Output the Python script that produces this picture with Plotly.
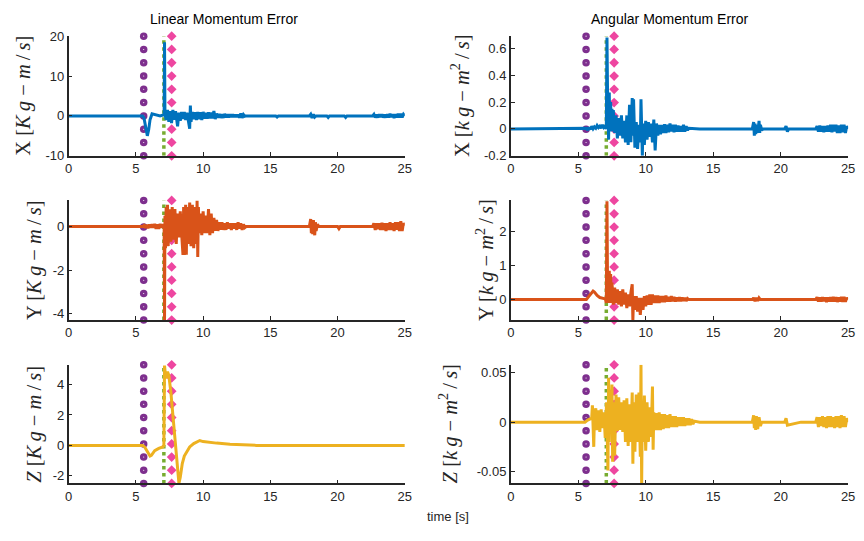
import numpy as np
import plotly.graph_objects as go
from plotly.subplots import make_subplots

# ---------------- data ----------------
# shared sampling grids for the low-level noise bursts
grid_mid = [11.1, 11.2, 11.3, 11.4, 11.5, 11.6, 11.7, 11.8, 11.9, 12.0,
            12.1, 12.2, 12.3, 12.4, 12.5, 12.6, 12.7, 12.8, 12.9, 13.0,
            13.1, 13.2]
grid_mid_long = grid_mid + [13.3, 13.4, 13.5, 13.6]
grid_end = [22.7, 22.8, 22.9, 23.0, 23.1, 23.2, 23.3, 23.4, 23.5, 23.6,
            23.7, 23.8, 23.9, 24.0, 24.1, 24.2, 24.3, 24.4, 24.5, 24.6,
            24.7, 24.8, 24.9, 25.0]

# ---- Linear momentum error X ----
lx_t1 = [0, 5.5, 5.6, 5.7, 5.8, 5.85, 5.95, 6.05, 6.2, 6.5, 6.8, 7.1, 7.13, 7.16]
lx_v1 = [0, 0, -0.5, -2.5, -4.5, -5, -3.5, -1, 0.5, 0.2, 0, 0.3, 18.5, 0.5]
lx_t2 = [7.25, 7.35, 7.45, 7.55, 7.65, 7.75, 7.85, 7.95, 8.05, 8.1,
         8.2, 8.3, 8.4, 8.5, 8.6, 8.7, 8.8, 8.9, 9.0, 9.05,
         9.1, 9.2, 9.3, 9.4, 9.5, 9.6, 9.7, 9.8, 9.9, 10.0,
         10.1, 10.2, 10.3, 10.4, 10.5, 10.6, 10.7, 10.8, 10.9, 11.0]
lx_v2 = [-1, 1.5, -1.5, 1.2, -1.8, 1.5, -1.0, 1.2, -0.8, -2.6,
         0.8, -1.2, 1.0, -0.8, 1.0, -1.0, 0.8, -1.0, -3.2, 2.6,
         -1.5, 1.0, -0.8, 0.9, -1.0, 1.0, -0.8, 0.9, -1.0, 1.0,
         -0.7, 0.8, -0.7, 0.9, -0.6, 0.8, -0.6, 1.2, -0.8, 0.6]
lx_v3 = [-0.5, 0.5, -0.5, 0.4, -0.5, 0.5, -0.4, 0.4, -0.4, 0.4,
         -0.3, 0.4, -0.3, 0.3, -0.3, 0.3, -0.4, 0.6, -0.5, 0.3,
         -0.1, 0]
lx_t4 = [15.4, 15.5, 15.6, 17.9, 18.0, 18.1, 18.2, 18.3, 18.4, 19.2, 19.3, 19.4, 20.5, 20.6, 20.7, 22.6]
lx_v4 = [0, -0.3, 0, 0, 0.4, -0.5, 0.4, -0.3, 0, 0, -0.4, 0, 0, -0.4, 0, 0]
lx_v5 = [0.4, -0.4, 0.3, -0.4, 0.4, -0.3, 0.4, -0.4, 0.3, -0.4,
         0.4, -0.4, 0.5, -0.3, 0.4, -0.5, 0.4, -0.4, 0.5, -0.4,
         0.5, -0.4, 0.4, 0]

# ---- Angular momentum error X ----
ax_t1 = [0, 5.5, 5.6, 5.7, 5.8, 5.9, 6.0, 6.1, 6.2, 6.3, 6.4, 6.5, 6.6, 6.7, 6.8, 6.9, 7.0, 7.08]
ax_v1 = [0, 0, 0.005, -0.01, 0.012, -0.005, 0.02, 0.0, 0.015, 0.005, 0.025, 0.01, 0.02, 0.005,
         0.03, 0.01, 0.02, 0]
ax_t2 = [7.13, 7.17, 7.25, 7.3, 7.35, 7.4, 7.45, 7.5, 7.55, 7.6,
         7.7, 7.8, 7.9, 8.0, 8.1, 8.2, 8.3, 8.4, 8.5, 8.6,
         8.7, 8.8, 8.9, 9.0, 9.05, 9.1, 9.2, 9.3, 9.4, 9.5,
         9.6, 9.65, 9.7, 9.75, 9.8, 9.9, 10.0, 10.1, 10.2, 10.3,
         10.4, 10.5, 10.6, 10.7, 10.8, 10.9, 11.0]
ax_v2 = [0.68, 0.3, -0.08, 0.27, -0.02, 0.2, 0.0, 0.15, -0.02, 0.14,
         -0.03, 0.1, -0.07, 0.08, -0.05, 0.1, -0.07, 0.06, -0.1, 0.1,
         -0.12, 0.18, -0.1, 0.23, -0.05, 0.22, -0.14, 0.05, -0.15, 0.03,
         -0.1, 0.22, 0.0, -0.2, 0.04, -0.12, 0.06, -0.08, 0.05, -0.06,
         0.04, -0.1, 0.07, -0.16, 0.04, -0.05, 0.03]
ax_v3 = [-0.04, 0.03, -0.03, 0.035, -0.03, 0.03, -0.025, 0.04, -0.02, 0.03,
         -0.025, 0.03, -0.02, 0.025, -0.02, 0.02, -0.02, 0.03, -0.02, 0.02,
         -0.01, 0.005]
ax_t4 = [14, 15, 16, 17, 17.9, 18.0, 18.05, 18.1, 18.15, 18.2,
         18.3, 18.4, 18.45, 18.5, 18.6, 18.7, 19.5, 20.3, 20.4, 20.5,
         20.6, 21.5, 22.6]
ax_v4 = [0, 0, 0, 0, 0, 0.05, -0.05, 0.04, -0.04, 0.03,
         -0.03, 0.06, -0.03, 0.03, -0.01, 0, 0, 0, 0.02, -0.02,
         0, 0, 0]
ax_v5 = [0.02, -0.02, 0.025, -0.02, 0.02, -0.025, 0.02, -0.02, 0.025, -0.02,
         0.03, -0.025, 0.03, -0.02, 0.03, -0.03, 0.025, -0.03, 0.03, -0.025,
         0.03, -0.03, 0.02, 0]

# ---- Linear momentum error Y ----
ly_t1 = [0, 5.5, 5.6, 5.7, 5.8, 5.9, 6.0, 6.1, 6.2, 6.3,
         6.4, 6.5, 6.6, 6.7, 6.8, 6.9, 7.0, 7.1, 7.13, 7.16]
ly_v1 = [0, 0, 0.05, -0.05, 0.08, -0.08, 0.1, -0.05, 0.1, -0.05,
         0.12, -0.1, 0.1, -0.1, 0.12, -0.05, 0.1, 0, -4.3, 0.5]
ly_t2 = [7.2, 7.25, 7.3, 7.35, 7.4, 7.5, 7.6, 7.7, 7.8, 7.9,
         8.0, 8.1, 8.2, 8.3, 8.4, 8.5, 8.55, 8.6, 8.7, 8.75,
         8.8, 8.9, 9.0, 9.1, 9.2, 9.3, 9.4, 9.5, 9.55, 9.6,
         9.65, 9.7, 9.8, 9.9, 10.0, 10.1, 10.2, 10.3, 10.4, 10.5,
         10.6, 10.7, 10.8, 10.9, 11.0]
ly_v2 = [-1.0, 0.9, -0.8, 1.0, -0.9, 0.8, -0.7, 0.9, -0.6, 0.8,
         -0.8, 0.6, -0.5, 0.7, -0.5, -1.3, 0.9, -1.3, 1.0, -1.3,
         0.9, -0.8, 1.1, -0.9, 1.0, -1.0, 0.9, -0.8, 1.2, -1.4,
         0.9, -0.3, 0.6, -0.4, 0.7, -0.3, 0.5, -0.3, 0.8, -0.4,
         0.6, -0.3, 0.4, -0.2, 0.3]
ly_v3 = [-0.2, 0.2, -0.15, 0.2, -0.15, 0.15, -0.15, 0.2, -0.1, 0.15,
         -0.15, 0.15, -0.1, 0.15, -0.15, 0.2, -0.1, 0.15, -0.15, 0.1,
         -0.05, 0]
ly_t4 = [14, 15, 16, 17, 17.9, 18.0, 18.05, 18.1, 18.15, 18.2,
         18.3, 18.35, 18.4, 18.5, 18.6, 19.5, 20.0, 20.1, 20.2, 21.5,
         22.6]
ly_v4 = [0, 0, 0, 0, 0, 0.35, -0.3, 0.3, -0.35, 0.3,
         -0.4, 0.2, -0.2, 0.1, 0, 0, 0, -0.1, 0, 0,
         0]
ly_v5 = [0.15, -0.15, 0.15, -0.12, 0.15, -0.15, 0.18, -0.15, 0.15, -0.2,
         0.15, -0.15, 0.2, -0.15, 0.15, -0.2, 0.2, -0.15, 0.2, -0.2,
         0.25, -0.2, 0.15, 0.05]

# ---- Angular momentum error Y ----
ay_t1 = [0, 5.6, 5.8, 6.0, 6.1, 6.2, 6.4, 6.6, 6.8, 7.0, 7.08, 7.13, 7.17]
ay_v1 = [0, 0, 0.1, 0.22, 0.25, 0.22, 0.12, 0.06, 0.05, 0.02, -0.1, 2.88, 0.5]
ay_t2 = [7.25, 7.3, 7.35, 7.4, 7.45, 7.5, 7.6, 7.7, 7.8, 7.9,
         8.0, 8.1, 8.2, 8.3, 8.4, 8.5, 8.6, 8.7, 8.8, 8.9,
         9.0, 9.05, 9.1, 9.2, 9.3, 9.4, 9.5, 9.6, 9.7, 9.8,
         9.9, 10.0, 10.1, 10.2, 10.3, 10.4, 10.5, 10.6, 10.7, 10.8,
         10.9, 11.0]
ay_v2 = [-0.1, 0.84, 0.0, 0.75, -0.1, 0.5, -0.15, 0.35, -0.1, 0.3,
         -0.15, 0.25, -0.2, 0.3, -0.15, 0.2, -0.25, 0.15, -0.2, 0.2,
         0.45, -0.6, 0.1, -0.3, 0.1, -0.35, 0.05, -0.45, 0.05, -0.3,
         0.1, -0.2, 0.12, -0.15, 0.15, -0.15, 0.15, -0.1, 0.12, -0.1,
         0.12, -0.1]
ay_v3 = [0.1, -0.08, 0.1, -0.08, 0.12, -0.06, 0.08, -0.06, 0.1, -0.05,
         0.08, -0.06, 0.06, -0.05, 0.07, -0.05, 0.06, -0.04, 0.05, -0.04,
         0.03, 0]
ay_t4 = [14, 15, 16, 17, 17.9, 18.0, 18.1, 18.2, 18.3, 18.4, 18.5, 19.5, 21.5, 22.6]
ay_v4 = [0, 0, 0, 0, 0, 0.05, -0.05, 0.05, -0.04, 0.05, 0, 0, 0, 0]
ay_v5 = [0.07, -0.06, 0.06, -0.06, 0.07, -0.05, 0.06, -0.07, 0.06, -0.06,
         0.07, -0.06, 0.08, -0.06, 0.07, -0.07, 0.06, -0.06, 0.08, -0.07,
         0.08, -0.06, 0.05, 0]

# ---- Linear momentum error Z ----
lz_t = [0, 5.5, 5.65, 5.85, 6.05, 6.15, 6.4, 6.7, 7.0, 7.08,
        7.13, 7.22, 7.35, 7.45, 7.6, 7.8, 7.95, 8.1, 8.2, 8.3,
        8.45, 8.6, 8.8, 9.0, 9.3, 9.6, 9.75, 10.0, 10.4, 11,
        12, 13, 14, 25]
lz_v = [0, 0, -0.1, -0.4, -0.7, -0.65, -0.35, -0.2, -0.1, 0,
        5.25, 4.4, 4.85, 4.6, 3.5, 1.5, 0, -1.8, -2.5, -2.1,
        -1.2, -0.7, -0.35, -0.1, 0.12, 0.28, 0.32, 0.25, 0.2, 0.15,
        0.08, 0.03, 0, 0]

# ---- Angular momentum error Z ----
az_t1 = [0, 5.5, 5.7, 5.9, 6.0, 6.05, 6.15, 6.2, 6.3, 6.4,
         6.5, 6.6, 6.7, 6.8, 6.9, 7.0, 7.1, 7.2, 7.25, 7.3,
         7.35, 7.4, 7.5, 7.55, 7.6, 7.7, 7.8, 7.9, 8.0, 8.1,
         8.2, 8.3, 8.4, 8.5, 8.6, 8.7, 8.8, 8.9, 9.0, 9.05,
         9.1, 9.2, 9.3, 9.4, 9.5, 9.6, 9.65, 9.7, 9.75, 9.8,
         9.9, 10.0, 10.1, 10.2, 10.3, 10.4, 10.5, 10.55, 10.6, 10.7,
         10.8, 10.9, 11.0]
az_v1 = [0, 0, 0.002, 0.003, 0.004, 0.017, -0.025, 0.005, 0.014, -0.008,
         0.012, -0.01, 0.013, -0.006, 0.01, -0.016, 0.02, -0.049, 0.045, -0.02,
         0.03, -0.01, 0.038, -0.04, 0.02, -0.034, 0.028, -0.009, 0.025, -0.008,
         0.02, -0.01, 0.022, -0.02, 0.024, -0.024, 0.018, -0.02, 0.03, -0.042,
         0.02, -0.03, 0.028, -0.02, 0.03, -0.035, 0.058, -0.064, 0.02, -0.02,
         0.027, -0.029, 0.02, -0.02, 0.015, -0.015, 0.036, -0.028, 0.01, -0.008,
         0.009, -0.008, 0.01]
az_v3 = [-0.008, 0.008, -0.007, 0.008, -0.006, 0.007, -0.006, 0.008, -0.005, 0.006,
         -0.005, 0.006, -0.005, 0.005, -0.004, 0.005, -0.004, 0.005, -0.004, 0.004,
         -0.003, 0.004, -0.003, 0.003, -0.002, 0.001]
az_t4 = [14, 15, 16, 17, 17.9, 18.0, 18.05, 18.1, 18.15, 18.2,
         18.3, 18.4, 18.5, 18.6, 19.5, 20.3, 20.4, 20.5, 21.5, 22.6]
az_v4 = [0, 0, 0, 0, 0, 0.007, -0.006, 0.006, -0.008, 0.006,
         -0.007, 0.005, -0.004, 0, 0, 0, 0.004, -0.003, 0, 0]
az_v5 = [0.005, -0.005, 0.005, -0.004, 0.006, -0.005, 0.005, -0.006, 0.006, -0.005,
         0.006, -0.005, 0.005, -0.006, 0.006, -0.005, 0.006, -0.006, 0.007, -0.005,
         0.006, -0.005, 0.004, 0]

# event times (vertical marker lines)
t_event_circle = 5.58
t_event_dotted = 7.08
t_event_diamond = 7.66

x_ticks = [0, 5, 10, 15, 20, 25]


def join(ts, vs):
    t, v = [], []
    for a, b in zip(ts, vs):
        if len(a) != len(b):
            raise ValueError("length mismatch %d vs %d" % (len(a), len(b)))
        t += list(a)
        v += list(b)
    return t, v


t_lx, v_lx = join([lx_t1, lx_t2, grid_mid, lx_t4, grid_end], [lx_v1, lx_v2, lx_v3, lx_v4, lx_v5])
t_ax, v_ax = join([ax_t1, ax_t2, grid_mid, ax_t4, grid_end], [ax_v1, ax_v2, ax_v3, ax_v4, ax_v5])
t_ly, v_ly = join([ly_t1, ly_t2, grid_mid, ly_t4, grid_end], [ly_v1, ly_v2, ly_v3, ly_v4, ly_v5])
t_ay, v_ay = join([ay_t1, ay_t2, grid_mid, ay_t4, grid_end], [ay_v1, ay_v2, ay_v3, ay_v4, ay_v5])
t_lz, v_lz = join([lz_t], [lz_v])
t_az, v_az = join([az_t1, grid_mid_long, az_t4, grid_end], [az_v1, az_v3, az_v4, az_v5])

# ---------------- styling ----------------
BLUE, ORANGE, YELLOW = "#0072BD", "#D95319", "#EDB120"
PURPLE, GREEN, PINK = "#7E2F8E", "#77AC30", "#EE46A0"
AXC = "#262626"

panels = [
    dict(r=1, c=1, t=t_lx, v=v_lx, col=BLUE, rng=[-10, 20],
         tv=[-10, 0, 10, 20], tt=["-10", "0", "10", "20"]),
    dict(r=1, c=2, t=t_ax, v=v_ax, col=BLUE, rng=[-0.2, 0.69],
         tv=[-0.2, 0, 0.2, 0.4, 0.6], tt=["-0.2", "0", "0.2", "0.4", "0.6"]),
    dict(r=2, c=1, t=t_ly, v=v_ly, col=ORANGE, rng=[-4.3, 1.2],
         tv=[-4, -2, 0], tt=["-4", "-2", "0"]),
    dict(r=2, c=2, t=t_ay, v=v_ay, col=ORANGE, rng=[-0.6, 2.9],
         tv=[0, 1, 2], tt=["0", "1", "2"]),
    dict(r=3, c=1, t=t_lz, v=v_lz, col=YELLOW, rng=[-2.5, 5.3],
         tv=[-2, 0, 2, 4], tt=["-2", "0", "2", "4"]),
    dict(r=3, c=2, t=t_az, v=v_az, col=YELLOW, rng=[-0.062, 0.058],
         tv=[-0.05, 0, 0.05], tt=["-0.05", "0", "0.05"]),
]

W, H = 864, 541


def fx(px):
    return px / W


def fy(py):
    return 1 - py / H


xdom = {1: [fx(65.5), fx(406)], 2: [fx(513.3), fx(855)]}
ydom = {1: [fy(153), fy(30)], 2: [fy(322), fy(199)], 3: [fy(490), fy(368)]}

fig = make_subplots(rows=3, cols=2)

for p in panels:
    lo, hi = p["rng"]
    ys = np.linspace(lo, hi, 10)
    r, c = p["r"], p["c"]
    fig.add_trace(go.Scatter(x=[t_event_dotted, t_event_dotted], y=[lo, hi], mode="lines",
                             line=dict(color=GREEN, width=3.5, dash="dot"), showlegend=False,
                             hoverinfo="skip"), row=r, col=c)
    fig.add_trace(go.Scatter(x=[t_event_circle] * 10, y=ys, mode="markers", cliponaxis=False,
                             marker=dict(symbol="circle", size=7.5, color=PURPLE, line=dict(width=0)),
                             showlegend=False, hoverinfo="skip"), row=r, col=c)
    fig.add_trace(go.Scatter(x=[t_event_circle] * 10, y=ys, mode="markers", cliponaxis=False,
                             marker=dict(symbol="circle", size=1.1, color="white", line=dict(width=0)),
                             showlegend=False, hoverinfo="skip"), row=r, col=c)
    fig.add_trace(go.Scatter(x=[t_event_diamond] * 10, y=ys, mode="markers", cliponaxis=False,
                             marker=dict(symbol="diamond", size=7.5, color=PINK, line=dict(width=0)),
                             showlegend=False, hoverinfo="skip"), row=r, col=c)
    fig.add_trace(go.Scatter(x=p["t"], y=p["v"], mode="lines",
                             line=dict(color=p["col"], width=3), showlegend=False), row=r, col=c)
    fig.update_xaxes(domain=xdom[c], range=[0, 25], tickvals=x_ticks,
                     ticktext=[str(v) for v in x_ticks], row=r, col=c)
    fig.update_yaxes(domain=ydom[r], range=p["rng"], tickvals=p["tv"], ticktext=p["tt"],
                     row=r, col=c)

fig.update_xaxes(showline=True, linecolor=AXC, linewidth=1.5, ticks="inside", ticklen=4,
                 tickwidth=1, tickcolor=AXC, showgrid=False, zeroline=False,
                 tickfont=dict(family="Liberation Sans, Arial", size=13, color=AXC))
fig.update_yaxes(showline=True, linecolor=AXC, linewidth=1.5, ticks="inside", ticklen=4,
                 tickwidth=1, tickcolor=AXC, showgrid=False, zeroline=False,
                 tickfont=dict(family="Liberation Sans, Arial", size=13, color=AXC))

TS = "\u2009"
lin_unit = "[<i>K" + TS + "g</i> − <i>m</i>" + TS + "/" + TS + "<i>s</i>]"
ang_unit = "[<i>k" + TS + "g</i> − <i>m</i><sup>2</sup>" + TS + "/" + TS + "<i>s</i>]"
ylabels = [
    ("X " + lin_unit, 20, 91.5), ("X " + ang_unit, 463, 91.5),
    ("Y " + lin_unit, 31, 260.5), ("Y " + ang_unit, 487, 260.5),
    ("<i>Z</i> " + lin_unit, 31, 429), ("<i>Z</i> " + ang_unit, 450, 429),
]
ann = []
for txt, px, py in ylabels:
    ann.append(dict(text=txt, x=fx(px), y=fy(py), xref="paper", yref="paper",
                    xanchor="center", yanchor="middle", textangle=-90, showarrow=False,
                    font=dict(family="Liberation Serif, Times New Roman", size=20.5, color=AXC)))
ann.append(dict(text="Linear Momentum Error", x=fx(223), y=fy(12.5), xref="paper", yref="paper",
                xanchor="center", yanchor="middle", showarrow=False,
                font=dict(family="Liberation Sans, Arial", size=14, color="black")))
ann.append(dict(text="Angular Momentum Error", x=fx(675), y=fy(12.5), xref="paper", yref="paper",
                xanchor="center", yanchor="middle", showarrow=False,
                font=dict(family="Liberation Sans, Arial", size=14, color="black")))
ann.append(dict(text="time [s]", x=fx(450), y=fy(524), xref="paper", yref="paper",
                xanchor="center", yanchor="middle", showarrow=False,
                font=dict(family="Liberation Sans, Arial", size=13, color=AXC)))

fig.update_layout(width=W, height=H, autosize=False, margin=dict(l=0, r=0, t=0, b=0),
                  paper_bgcolor="white", plot_bgcolor="white", annotations=ann,
                  showlegend=False)

fig.write_html("out.html")
